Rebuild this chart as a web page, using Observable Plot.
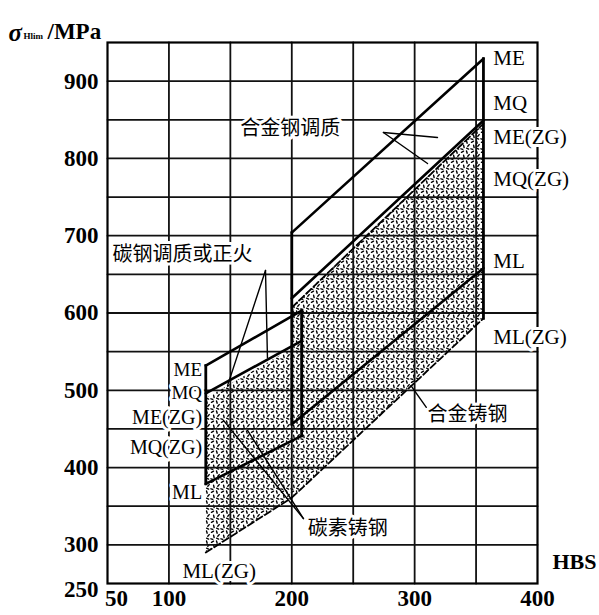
<!DOCTYPE html>
<html><head><meta charset="utf-8">
<script src="https://cdn.jsdelivr.net/npm/d3@7"></script>
<script src="https://cdn.jsdelivr.net/npm/@observablehq/plot@0.6"></script>
<style>body{margin:0;background:#fff}</style>
</head><body><div id="chart"></div>
<script>
// ---- grid & tick data ----
const xGrid = [100, 150, 200, 250, 300, 350];
const yGrid = [300, 350, 400, 450, 500, 550, 600, 650, 700, 750, 800, 850, 900];
const xTickLabels = [100, 200, 300, 400];
const xFirstTick = [50];
const yTickLabels = [300, 400, 500, 600, 700, 800, 900];
const yFirstTick = [250];
const xDomain = [50, 400];
const yDomain = [250, 950];

// ---- alloy steel (合金钢调质), HBS 200..356 ----
const alloyHBS = [200, 356];
const alloyME = [704, 929];
const alloyMQ = [619, 849];
const alloyML = [456, 658];
// ---- alloy cast steel (合金铸钢) ----
const alloyCastME = [607, 845];
const alloyCastML = [361, 593];

// ---- carbon steel (碳钢调质或正火), HBS 130..208 ----
const carbonHBS = [130, 208];
const carbonME = [532, 603];
const carbonMQ = [496, 564];
const carbonML = [379, 441];
// ---- carbon cast steel (碳素铸钢), HBS 130..200 ----
const carbonCastHBS = [130, 200];
const carbonCastTop = [489, 553];
const carbonCastML = [290, 361];

// ---- labels ----
const rightLabels = ["ME", "MQ", "ME(ZG)", "MQ(ZG)", "ML", "ML(ZG)"];
const rightLabelSigma = [929, 872, 827, 773, 667, 568];
const rightLabelHBS = 364;
const leftLabelsTop = ["ME", "MQ"];
const leftLabelsTopSigma = [527, 496];
const leftLabelsLow = ["ME(ZG)", "MQ(ZG)", "ML"];
const leftLabelsLowSigma = [465, 426, 368];
const leftLabelHBS = 127;
const bottomLabel = ["ML(ZG)"];
const bottomLabelPos = [111, 266];

const cnLabels = ["合金钢调质", "碳钢调质或正火", "碳素铸钢", "合金铸钢"];
const cnLabelHBS = [158, 54, 213, 310.5];
const cnLabelSigma = [839, 676, 321, 469];

// leader lines [HBS, σ] from label to curve
const leaders = [
  [[274.6, 833.6], [318.6, 827.1]],
  [[274.6, 833.6], [310.5, 793.4]],
  [[178.6, 655], [147.7, 506]],
  [[178.6, 655], [180.2, 542]],
  [[209.5, 334], [144.4, 461]],
  [[209.5, 334], [164, 448]],
  [[309.5, 478], [297, 506], [305, 488]]
];

// ---- build tables ----
const seg = (xs, ys) => xs.map((x, i) => ({x, y: ys[i]}));
const band = (xs, lo, hi) => xs.map((x, i) => ({x, y1: lo[i], y2: hi[i]}));

const solidLines = [
  seg(alloyHBS, alloyME), seg(alloyHBS, alloyMQ), seg(alloyHBS, alloyML),
  seg(carbonHBS, carbonME), seg(carbonHBS, carbonMQ), seg(carbonHBS, carbonML)
];
const dashedLines = [
  seg(alloyHBS, alloyCastME), seg(alloyHBS, alloyCastML), seg(carbonCastHBS, carbonCastML)
];
const verticals = [
  {x1: alloyHBS[0], x2: alloyHBS[0], y1: alloyML[0], y2: alloyME[0]},
  {x1: alloyHBS[1], x2: alloyHBS[1], y1: alloyCastML[1], y2: alloyME[1]},
  {x1: carbonHBS[0], x2: carbonHBS[0], y1: carbonML[0], y2: carbonME[0]},
  {x1: carbonHBS[1], x2: carbonHBS[1], y1: carbonML[1], y2: carbonME[1]}
];
// grid as polyline segments (one z-group per grid line)
const vGridPts = xGrid.flatMap(v => [{x: v, y: yDomain[0], g: "v" + v}, {x: v, y: yDomain[1], g: "v" + v}]);
const hGridPts = yGrid.flatMap(v => [{x: xDomain[0], y: v, g: "h" + v}, {x: xDomain[1], y: v, g: "h" + v}]);

const serif = "Liberation Serif, Times New Roman, serif";
const cjk = "Noto Sans CJK SC, sans-serif";
const halo = {stroke: "white", strokeWidth: 6, paintOrder: "stroke", fill: "black"};
const linkOpts = w => ({x1: "x1", x2: "x2", y1: "y1", y2: "y2", stroke: "black", strokeWidth: w, strokeLinecap: "square"});

const chart = Plot.plot({
  width: 599, height: 615,
  marginLeft: 107, marginRight: 62, marginTop: 42, marginBottom: 32,
  x: {domain: xDomain, axis: null},
  y: {domain: yDomain, axis: null},
  style: {background: "white", overflow: "visible"},
  marks: [
    // stippled cast-steel bands
    Plot.areaY(band(alloyHBS, alloyCastML, alloyCastME), {x: "x", y1: "y1", y2: "y2", fill: "url(#stip)", curve: "linear"}),
    Plot.areaY(band(carbonCastHBS, carbonCastML, carbonCastTop), {x: "x", y1: "y1", y2: "y2", fill: "url(#stip)", curve: "linear"}),
    // grid
    Plot.line(vGridPts, {x: "x", y: "y", z: "g", stroke: "#111", strokeWidth: 1.8}),
    Plot.line(hGridPts, {x: "x", y: "y", z: "g", stroke: "#111", strokeWidth: 1.8}),
    Plot.frame({stroke: "black", strokeWidth: 2.2}),
    // labels with white halo (break the grid)
    Plot.text(rightLabels, {x: () => rightLabelHBS, y: (d, i) => rightLabelSigma[i], text: d => d, textAnchor: "start",
      fontFamily: serif, fontSize: 21, ...halo, ariaLabel: "latin"}),
    Plot.text(leftLabelsTop, {x: () => leftLabelHBS, y: (d, i) => leftLabelsTopSigma[i], text: d => d, textAnchor: "end",
      fontFamily: serif, fontSize: 19, ...halo, ariaLabel: "latin"}),
    Plot.text(leftLabelsLow, {x: () => leftLabelHBS, y: (d, i) => leftLabelsLowSigma[i], text: d => d, textAnchor: "end",
      fontFamily: serif, fontSize: 20, ...halo, ariaLabel: "latin"}),
    Plot.text(bottomLabel, {x: () => bottomLabelPos[0], y: () => bottomLabelPos[1], text: d => d, textAnchor: "start",
      fontFamily: serif, fontSize: 21, ...halo, ariaLabel: "latin"}),
    Plot.text(cnLabels, {x: (d, i) => cnLabelHBS[i], y: (d, i) => cnLabelSigma[i], text: d => d, textAnchor: "start",
      fontFamily: cjk, fontSize: 20, ...halo, ariaLabel: "cjk"}),
    // data lines
    ...solidLines.map(s => Plot.line(s, {x: "x", y: "y", stroke: "black", strokeWidth: 2.6})),
    ...dashedLines.map(s => Plot.line(s, {x: "x", y: "y", stroke: "black", strokeWidth: 1.8, strokeDasharray: "7,3"})),
    Plot.link(verticals, linkOpts(2.8)),
    ...leaders.map(l => Plot.line(l, {x: d => d[0], y: d => d[1], stroke: "black", strokeWidth: 1.4})),
    // tick labels
    Plot.text(xTickLabels, {x: d => d, frameAnchor: "bottom", dy: 22, text: d => String(d),
      fontFamily: serif, fontWeight: "bold", fontSize: 23}),
    Plot.text(xFirstTick, {x: d => d, frameAnchor: "bottom", dy: 22, dx: 9, text: d => String(d),
      fontFamily: serif, fontWeight: "bold", fontSize: 23}),
    Plot.text(yTickLabels, {y: d => d, frameAnchor: "left", dx: -9, textAnchor: "end", text: d => String(d),
      fontFamily: serif, fontWeight: "bold", fontSize: 23}),
    Plot.text(yFirstTick, {y: d => d, frameAnchor: "left", dx: -9, dy: 6, textAnchor: "end", text: d => String(d),
      fontFamily: serif, fontWeight: "bold", fontSize: 23}),
    // axis titles
    Plot.text(["σ"], {frameAnchor: "top-left", dx: -99, dy: -19, textAnchor: "start", text: d => d,
      fontFamily: serif, fontWeight: "bold", fontStyle: "italic", fontSize: 25}),
    Plot.text(["Hlim"], {frameAnchor: "top-left", dx: -84, dy: -10, textAnchor: "start", text: d => d,
      fontFamily: serif, fontWeight: "bold", fontSize: 9}),
    Plot.text(["/MPa"], {frameAnchor: "top-left", dx: -60, dy: -20, textAnchor: "start", text: d => d,
      fontFamily: serif, fontWeight: "bold", fontSize: 23}),
    Plot.text(["HBS"], {frameAnchor: "bottom-right", dx: 15, dy: -15, textAnchor: "start", text: d => d,
      fontFamily: serif, fontWeight: "bold", fontSize: 22})
  ]
});

// stipple pattern definition
const NS = "http://www.w3.org/2000/svg";
const defs = document.createElementNS(NS, "defs");
const pat = document.createElementNS(NS, "pattern");
pat.setAttribute("id", "stip");
pat.setAttribute("width", "10");
pat.setAttribute("height", "10");
pat.setAttribute("patternUnits", "userSpaceOnUse");
const bg = document.createElementNS(NS, "rect");
bg.setAttribute("width", "10"); bg.setAttribute("height", "10"); bg.setAttribute("fill", "white");
pat.appendChild(bg);
const p = document.createElementNS(NS, "path");
p.setAttribute("d", "M1.5,2.3l2,-1.1M6.5,1l0.7,2.2M9.2,4.6l-1.4,1.6M3.6,5.3l0.5,2.2M1,8.8l1.8,0.5M6.6,8.2l2,0.9");
p.setAttribute("stroke", "black");
p.setAttribute("stroke-width", "1.4");
p.setAttribute("stroke-linecap", "round");
p.setAttribute("fill", "none");
pat.appendChild(p);
defs.appendChild(pat);
chart.insertBefore(defs, chart.firstChild);

chart.querySelectorAll('g[aria-label="cjk"] text').forEach(t => t.style.letterSpacing = "6px");
chart.querySelectorAll('g[aria-label="latin"] text').forEach(t => t.style.letterSpacing = "2.5px");

document.getElementById("chart").appendChild(chart);
</script>
</body></html>
